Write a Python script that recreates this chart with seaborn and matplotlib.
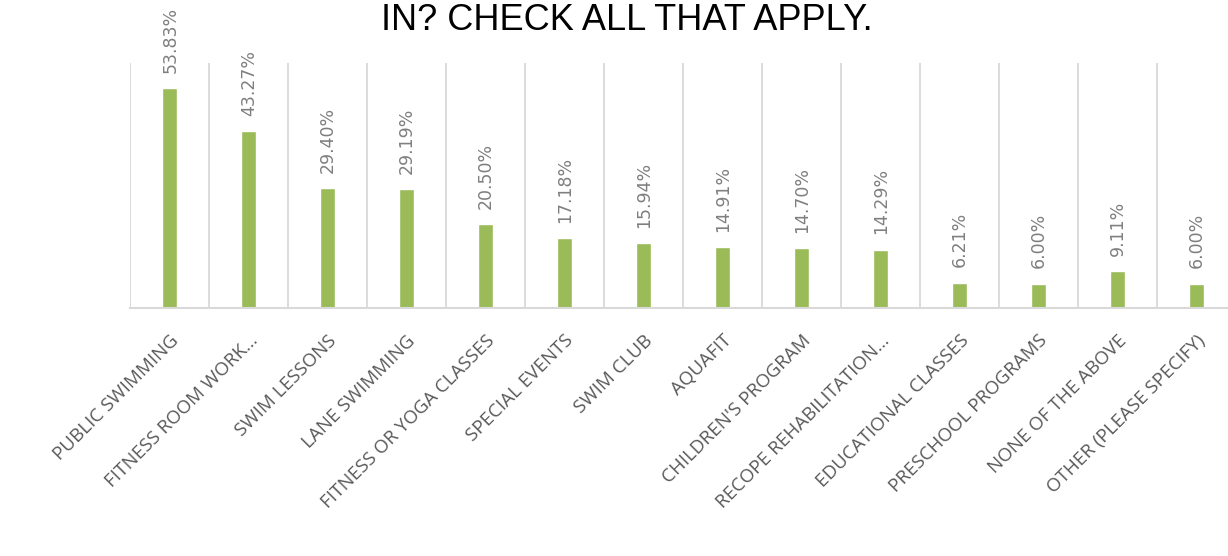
import matplotlib
matplotlib.use("Agg")
import matplotlib.pyplot as plt
import pandas as pd
import seaborn as sns

# survey categories, as shown on the x axis
categories = [
    "PUBLIC SWIMMING",
    "FITNESS ROOM WORK…",
    "SWIM LESSONS",
    "LANE SWIMMING",
    "FITNESS OR YOGA CLASSES",
    "SPECIAL EVENTS",
    "SWIM CLUB",
    "AQUAFIT",
    "CHILDREN'S PROGRAM",
    "RECOPE REHABILITATION…",
    "EDUCATIONAL CLASSES",
    "PRESCHOOL PROGRAMS",
    "NONE OF THE ABOVE",
    "OTHER (PLEASE SPECIFY)",
]
percentages = [53.83, 43.27, 29.40, 29.19, 20.50, 17.18, 15.94,
               14.91, 14.70, 14.29, 6.21, 6.00, 9.11, 6.00]
title_line = "IN? CHECK ALL THAT APPLY."

df = pd.DataFrame({"category": categories, "pct": percentages})

sns.set_style("white")
plt.rcParams["font.family"] = ["Open Sans", "DejaVu Sans"]

fig = plt.figure(figsize=(12.28, 5.56), dpi=100)
ax = fig.add_axes([130 / 1228, 1 - 308 / 556, 1106 / 1228, 245 / 556])

sns.barplot(data=df, x="category", y="pct", color="#9BBB59", saturation=1,
            width=0.19, ax=ax)

ax.set_ylim(0, 60)
ax.set_xlim(-0.5, len(categories) - 0.5)
ax.set_xlabel("")
ax.set_ylabel("")
ax.set_yticks([])

# vertical separators between categories
ax.set_xticks([i - 0.5 for i in range(len(categories) + 1)], minor=True)
ax.grid(True, which="minor", axis="x", color="#D9D9D9", linewidth=1.3)
ax.set_axisbelow(True)
ax.tick_params(axis="x", which="both", length=0)

for side in ["top", "right", "left"]:
    ax.spines[side].set_visible(False)
ax.spines["bottom"].set_color("#D9D9D9")
ax.spines["bottom"].set_linewidth(1.5)

ax.set_xticks(range(len(categories)))
ax.set_xticklabels(categories, rotation=45, ha="right", rotation_mode="anchor",
                   fontsize=13.5, color="#595959")
ax.tick_params(axis="x", which="major", pad=17)

for i, v in enumerate(percentages):
    ax.annotate(f"{v:.2f}%", (i, v), xytext=(0.5, 11), textcoords="offset points",
                rotation=90, ha="center", va="bottom", fontsize=12.5,
                color="#7F7F7F", family="DejaVu Sans")

fig.text(627 / 1228, 1 - 30 / 556, title_line, ha="center", va="baseline",
         fontsize=26, color="#000000", family="Liberation Sans")

fig.savefig("out.png", dpi=100)
